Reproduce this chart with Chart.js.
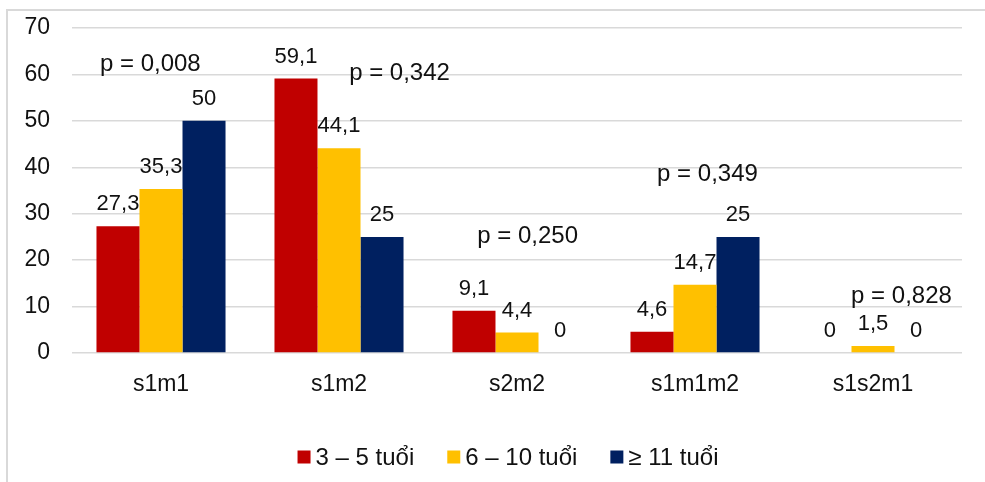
<!DOCTYPE html>
<html>
<head>
<meta charset="utf-8">
<script src="https://cdn.jsdelivr.net/npm/chart.js@4"></script>
<style>
  html, body { margin: 0; padding: 0; background: #ffffff; }
  #wrap { width: 985px; height: 482px; position: relative; }
</style>
</head>
<body>
<div id="wrap"><canvas id="chart" width="985" height="482"></canvas></div>
<script>
// Categories and age-group series (percent)
const categories = ['s1m1', 's1m2', 's2m2', 's1m1m2', 's1s2m1'];
const seriesNames = ['3 – 5 tuổi', '6 – 10 tuổi', '≥ 11 tuổi'];
const age3to5 = [27.3, 59.1, 9.1, 4.6, 0];
const age6to10 = [35.3, 44.1, 4.4, 14.7, 1.5];
const age11plus = [50, 25, 0, 25, 0];
const yTickStep = 10;
const yMax = 70;

// p-value notes per category
const pLabels = ['p = 0,008', 'p = 0,342', 'p = 0,250', 'p = 0,349', 'p = 0,828'];
// where each note sits: category index (fractional) and y value of its baseline
const pAnchorIndex = [-0.06, 1.34, 2.06, 3.07, 4.16];
const pAnchorValue = [60.7, 58.8, 23.7, 37.0, 10.8];

const colors = ['#C00000', '#FFC000', '#002060'];
const FONT = '"Liberation Sans", Arial, sans-serif';
const TEXT = '#111111';

const fmt = v => String(v).replace('.', ',');

// Thin grey frame around the chart
const framePlugin = {
  id: 'frame',
  beforeDraw(chart) {
    const ctx = chart.ctx;
    ctx.save();
    ctx.strokeStyle = '#d9d9d9';
    ctx.lineWidth = 2;
    ctx.strokeRect(7, 10, 1000, 500);
    ctx.restore();
  }
};

// Value labels above bars and p-value notes
const labelPlugin = {
  id: 'valueLabels',
  afterDatasetsDraw(chart) {
    const ctx = chart.ctx;
    ctx.save();
    ctx.fillStyle = TEXT;
    ctx.textAlign = 'center';
    ctx.textBaseline = 'alphabetic';
    ctx.font = '22px ' + FONT;
    chart.data.datasets.forEach((ds, di) => {
      const meta = chart.getDatasetMeta(di);
      meta.data.forEach((bar, i) => {
        ctx.fillText(fmt(ds.data[i]), bar.x, bar.y - 16);
      });
    });
    const xs = chart.scales.x, ys = chart.scales.y;
    ctx.font = '24px ' + FONT;
    pLabels.forEach((t, i) => {
      ctx.fillText(t, xs.getPixelForValue(pAnchorIndex[i]), ys.getPixelForValue(pAnchorValue[i]));
    });
    ctx.restore();
  }
};

// Legend row under the axis: square swatch, then series name
const legendRow = {
  id: 'legendRow',
  afterDraw(chart) {
    const ctx = chart.ctx;
    const box = 13, gap = 5, spacing = 33, centerX = 508, centerY = 457;
    ctx.save();
    ctx.font = '24px ' + FONT;
    const items = chart.data.datasets.map(ds => ({
      text: ds.label, color: ds.backgroundColor, w: ctx.measureText(ds.label).width
    }));
    const total = items.reduce((s, it) => s + box + gap + it.w, 0) + spacing * (items.length - 1);
    let x = centerX - total / 2;
    ctx.textAlign = 'left';
    ctx.textBaseline = 'middle';
    items.forEach(it => {
      ctx.fillStyle = it.color;
      ctx.fillRect(x, centerY - box / 2, box, box);
      ctx.fillStyle = TEXT;
      ctx.fillText(it.text, x + box + gap, centerY + 1);
      x += box + gap + it.w + spacing;
    });
    ctx.restore();
  }
};

new Chart(document.getElementById('chart'), {
  type: 'bar',
  data: {
    labels: categories,
    datasets: [
      { label: seriesNames[0], data: age3to5, backgroundColor: colors[0] },
      { label: seriesNames[1], data: age6to10, backgroundColor: colors[1] },
      { label: seriesNames[2], data: age11plus, backgroundColor: colors[2] }
    ]
  },
  options: {
    responsive: false,
    animation: false,
    devicePixelRatio: 1,
    layout: { padding: { top: 28, right: 23, left: 10, bottom: 79 } },
    datasets: { bar: { categoryPercentage: 0.725, barPercentage: 1.0 } },
    plugins: {
      legend: { display: false },
      tooltip: { enabled: false }
    },
    scales: {
      x: {
        grid: { display: false, drawTicks: false },
        border: { display: false },
        ticks: { color: TEXT, padding: 18, font: { family: FONT, size: 23 } },
        afterFit(scale) { scale.height = 50; }
      },
      y: {
        min: 0, max: yMax,
        grid: { color: '#d9d9d9', lineWidth: 1.5, drawTicks: false },
        border: { display: false },
        ticks: { stepSize: yTickStep, color: TEXT, padding: 22, font: { family: FONT, size: 23 } },
        afterFit(scale) {
          scale.width = 62;
          scale.paddingTop = 0;
          scale.paddingBottom = 0;
        }
      }
    }
  },
  plugins: [framePlugin, labelPlugin, legendRow]
});
</script>
</body>
</html>
